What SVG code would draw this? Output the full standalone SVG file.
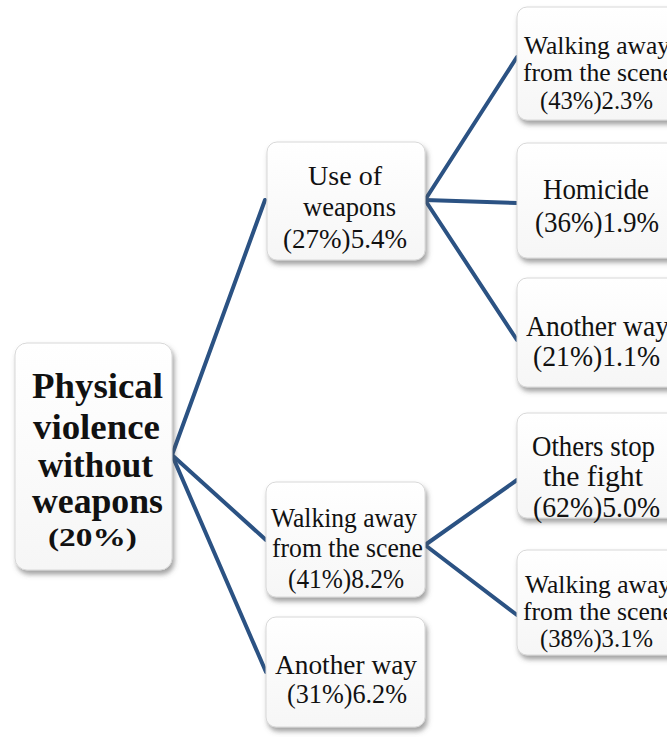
<svg xmlns="http://www.w3.org/2000/svg" width="667" height="737" viewBox="0 0 667 737">
<defs>
<filter id="sh" x="-10%" y="-10%" width="130%" height="130%">
<feDropShadow dx="2" dy="4" stdDeviation="2.5" flood-color="#555" flood-opacity="0.55"/>
</filter>
<linearGradient id="bg" x1="0" y1="0" x2="0" y2="1">
<stop offset="0" stop-color="#ffffff"/>
<stop offset="1" stop-color="#f6f6f6"/>
</linearGradient>
</defs>
<style>
.box{fill:url(#bg);stroke:#d8d8d8;stroke-width:1;filter:url(#sh)}
text{font-family:"Liberation Serif","Times New Roman",serif;fill:#111}
.m{font-size:28px}
.s{font-size:25px}
.l{font-size:29px}
.b{font-weight:bold;font-size:35px}
.conn line{stroke:#2b5283;stroke-width:4;stroke-linecap:round}
</style>
<rect width="667" height="737" fill="#fff"/>
<g class="conn">
<line x1="172" y1="455" x2="265" y2="200"/>
<line x1="172" y1="455" x2="266" y2="540"/>
<line x1="172" y1="455" x2="266" y2="672"/>
<line x1="425" y1="200" x2="517" y2="57"/>
<line x1="425" y1="200" x2="517" y2="203"/>
<line x1="425" y1="200" x2="517" y2="340"/>
<line x1="425" y1="545" x2="517" y2="480"/>
<line x1="425" y1="545" x2="517" y2="615"/>
</g>
<g id="root">
<rect class="box" x="15" y="343" width="157" height="227" rx="12"/>
<text class="b" x="32" y="398" textLength="131" lengthAdjust="spacingAndGlyphs">Physical</text>
<text class="b" x="33" y="439" textLength="127" lengthAdjust="spacingAndGlyphs">violence</text>
<text class="b" x="38" y="477" textLength="115" lengthAdjust="spacingAndGlyphs">without</text>
<text class="b" x="32" y="513" textLength="131" lengthAdjust="spacingAndGlyphs">weapons</text>
<text class="b" x="48" y="546" style="font-size:26px" textLength="89" lengthAdjust="spacingAndGlyphs">(20%)</text>
</g>
<g id="n-weapons">
<rect class="box" x="267" y="142" width="158" height="118" rx="10"/>
<text class="m" x="308" y="185" textLength="74" lengthAdjust="spacingAndGlyphs">Use of</text>
<text class="m" x="303" y="216" textLength="93" lengthAdjust="spacingAndGlyphs">weapons</text>
<text class="m" x="283" y="248" textLength="124" lengthAdjust="spacingAndGlyphs">(27%)5.4%</text>
</g>
<g id="n-walk">
<rect class="box" x="266" y="482" width="159" height="115" rx="10"/>
<text class="m" x="271" y="527" textLength="146" lengthAdjust="spacingAndGlyphs">Walking away</text>
<text class="m" x="272" y="557" textLength="151" lengthAdjust="spacingAndGlyphs">from the scene</text>
<text class="m" x="288" y="588" textLength="116" lengthAdjust="spacingAndGlyphs">(41%)8.2%</text>
</g>
<g id="n-another">
<rect class="box" x="266" y="617" width="159" height="110" rx="10"/>
<text class="m" x="275" y="674" textLength="142" lengthAdjust="spacingAndGlyphs">Another way</text>
<text class="m" x="287" y="703" textLength="120" lengthAdjust="spacingAndGlyphs">(31%)6.2%</text>
</g>
<g id="n-w-walk">
<rect class="box" x="517" y="7" width="162" height="113" rx="10"/>
<text class="s" x="524" y="54" textLength="146" lengthAdjust="spacingAndGlyphs">Walking away</text>
<text class="s" x="523" y="81" textLength="151" lengthAdjust="spacingAndGlyphs">from the scene</text>
<text class="s" x="540" y="109" textLength="113" lengthAdjust="spacingAndGlyphs">(43%)2.3%</text>
</g>
<g id="n-homicide">
<rect class="box" x="517" y="143" width="162" height="115" rx="10"/>
<text class="l" x="543" y="199" textLength="106" lengthAdjust="spacingAndGlyphs">Homicide</text>
<text class="l" x="535" y="232" textLength="124" lengthAdjust="spacingAndGlyphs">(36%)1.9%</text>
</g>
<g id="n-w-another">
<rect class="box" x="517" y="278" width="162" height="109" rx="10"/>
<text class="l" x="526" y="336" textLength="143" lengthAdjust="spacingAndGlyphs">Another way</text>
<text class="l" x="533" y="366" textLength="127" lengthAdjust="spacingAndGlyphs">(21%)1.1%</text>
</g>
<g id="n-others">
<rect class="box" x="517" y="413" width="162" height="105" rx="10"/>
<text class="l" x="532" y="456" textLength="123" lengthAdjust="spacingAndGlyphs">Others stop</text>
<text class="l" x="543" y="486" textLength="100" lengthAdjust="spacingAndGlyphs">the fight</text>
<text class="l" x="533" y="517" textLength="127" lengthAdjust="spacingAndGlyphs">(62%)5.0%</text>
</g>
<g id="n-walk2">
<rect class="box" x="517" y="550" width="162" height="105" rx="10"/>
<text class="s" x="525" y="593" textLength="146" lengthAdjust="spacingAndGlyphs">Walking away</text>
<text class="s" x="523" y="620" textLength="151" lengthAdjust="spacingAndGlyphs">from the scene</text>
<text class="s" x="540" y="647" textLength="113" lengthAdjust="spacingAndGlyphs">(38%)3.1%</text>
</g>
</svg>
